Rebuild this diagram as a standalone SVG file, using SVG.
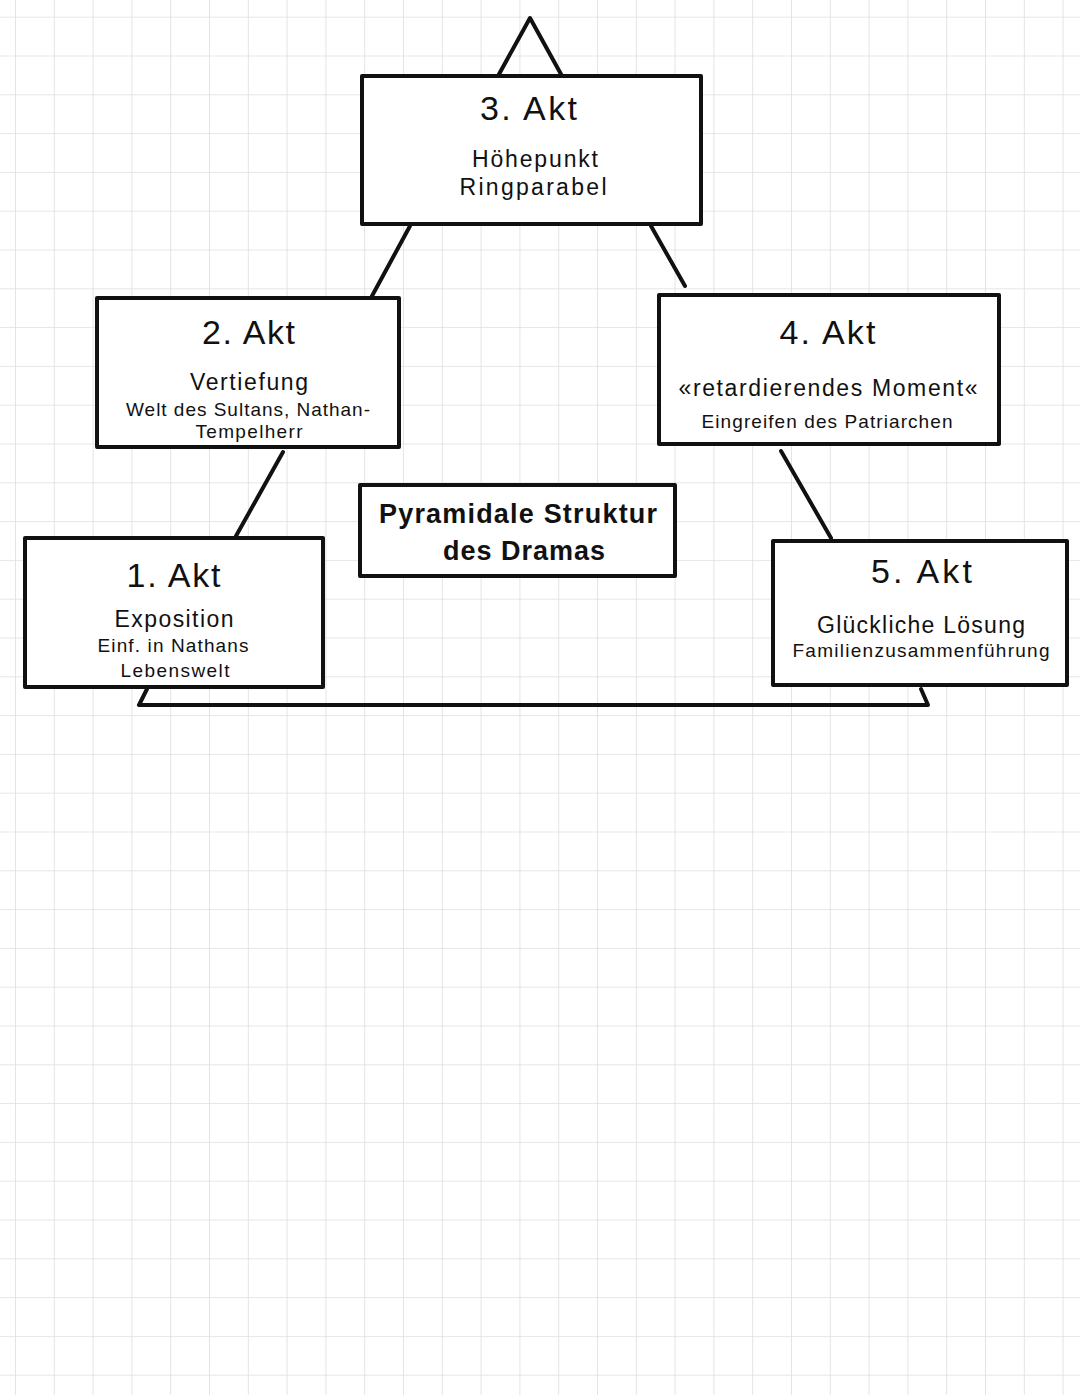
<svg xmlns="http://www.w3.org/2000/svg" width="1080" height="1395" viewBox="0 0 1080 1395">
<defs>
<pattern id="grid" x="15" y="16.7" width="38.8" height="38.8" patternUnits="userSpaceOnUse">
<path d="M0 0 H38.8 M0 0 V38.8" fill="none" stroke="#dedede" stroke-width="1.6"/>
</pattern>
<style>
.box{fill:#fff;stroke:#111;stroke-width:4;stroke-linejoin:round}
.ln{fill:none;stroke:#111;stroke-width:4;stroke-linecap:round;stroke-linejoin:round}
text{font-family:"Liberation Sans",Arial,sans-serif;fill:#111;text-anchor:middle}
.h{font-size:34px;letter-spacing:3px}
.m{font-size:23px}
.s{font-size:19px}
.t{font-size:27px;font-weight:bold}
</style>
</defs>
<rect x="0" y="0" width="1080" height="1395" fill="#fff"/>
<rect x="0" y="0" width="1080" height="1395" fill="url(#grid)"/>
<g id="connectors">
<polyline class="ln" points="498,76 530,18 562,76"/>
<line class="ln" x1="410" y1="226" x2="372" y2="296"/>
<line class="ln" x1="651" y1="226" x2="685" y2="286"/>
<line class="ln" x1="283" y1="452" x2="236" y2="536"/>
<line class="ln" x1="781" y1="451" x2="831" y2="538"/>
<polyline class="ln" points="147,689 139,705 928,705 921,689"/>
</g>
<g id="akt3">
<rect class="box" x="362" y="76" width="339" height="148"/>
<text class="h" x="530" y="120" textLength="100">3. Akt</text>
<text class="m" x="535" y="167" textLength="126">Höhepunkt</text>
<text class="m" x="533" y="195" textLength="147">Ringparabel</text>
</g>
<g id="akt2">
<rect class="box" x="97" y="298" width="302" height="149"/>
<text class="h" x="250" y="344" textLength="96">2. Akt</text>
<text class="m" x="249" y="390" textLength="118">Vertiefung</text>
<text class="s" x="248" y="416" textLength="244">Welt des Sultans, Nathan-</text>
<text class="s" x="249" y="438" textLength="107">Tempelherr</text>
</g>
<g id="akt4">
<rect class="box" x="659" y="295" width="340" height="149"/>
<text class="h" x="829" y="344" textLength="99">4. Akt</text>
<text class="m" x="828" y="396" textLength="299">«retardierendes Moment«</text>
<text class="s" x="827" y="428" textLength="251">Eingreifen des Patriarchen</text>
</g>
<g id="akt1">
<rect class="box" x="25" y="538" width="298" height="149"/>
<text class="h" x="175" y="587" textLength="97">1. Akt</text>
<text class="m" x="174" y="627" textLength="119">Exposition</text>
<text class="s" x="173" y="652" textLength="151">Einf. in Nathans</text>
<text class="s" x="175" y="677" textLength="109">Lebenswelt</text>
</g>
<g id="akt5">
<rect class="box" x="773" y="541" width="294" height="144"/>
<text class="h" x="923" y="583" textLength="104">5. Akt</text>
<text class="m" x="921" y="633" textLength="208">Glückliche Lösung</text>
<text class="s" x="921" y="657" textLength="257">Familienzusammenführung</text>
</g>
<g id="title">
<rect class="box" x="360" y="485" width="315" height="91"/>
<text class="t" x="518" y="523" textLength="278">Pyramidale Struktur</text>
<text class="t" x="524" y="560" textLength="162">des Dramas</text>
</g>
</svg>
